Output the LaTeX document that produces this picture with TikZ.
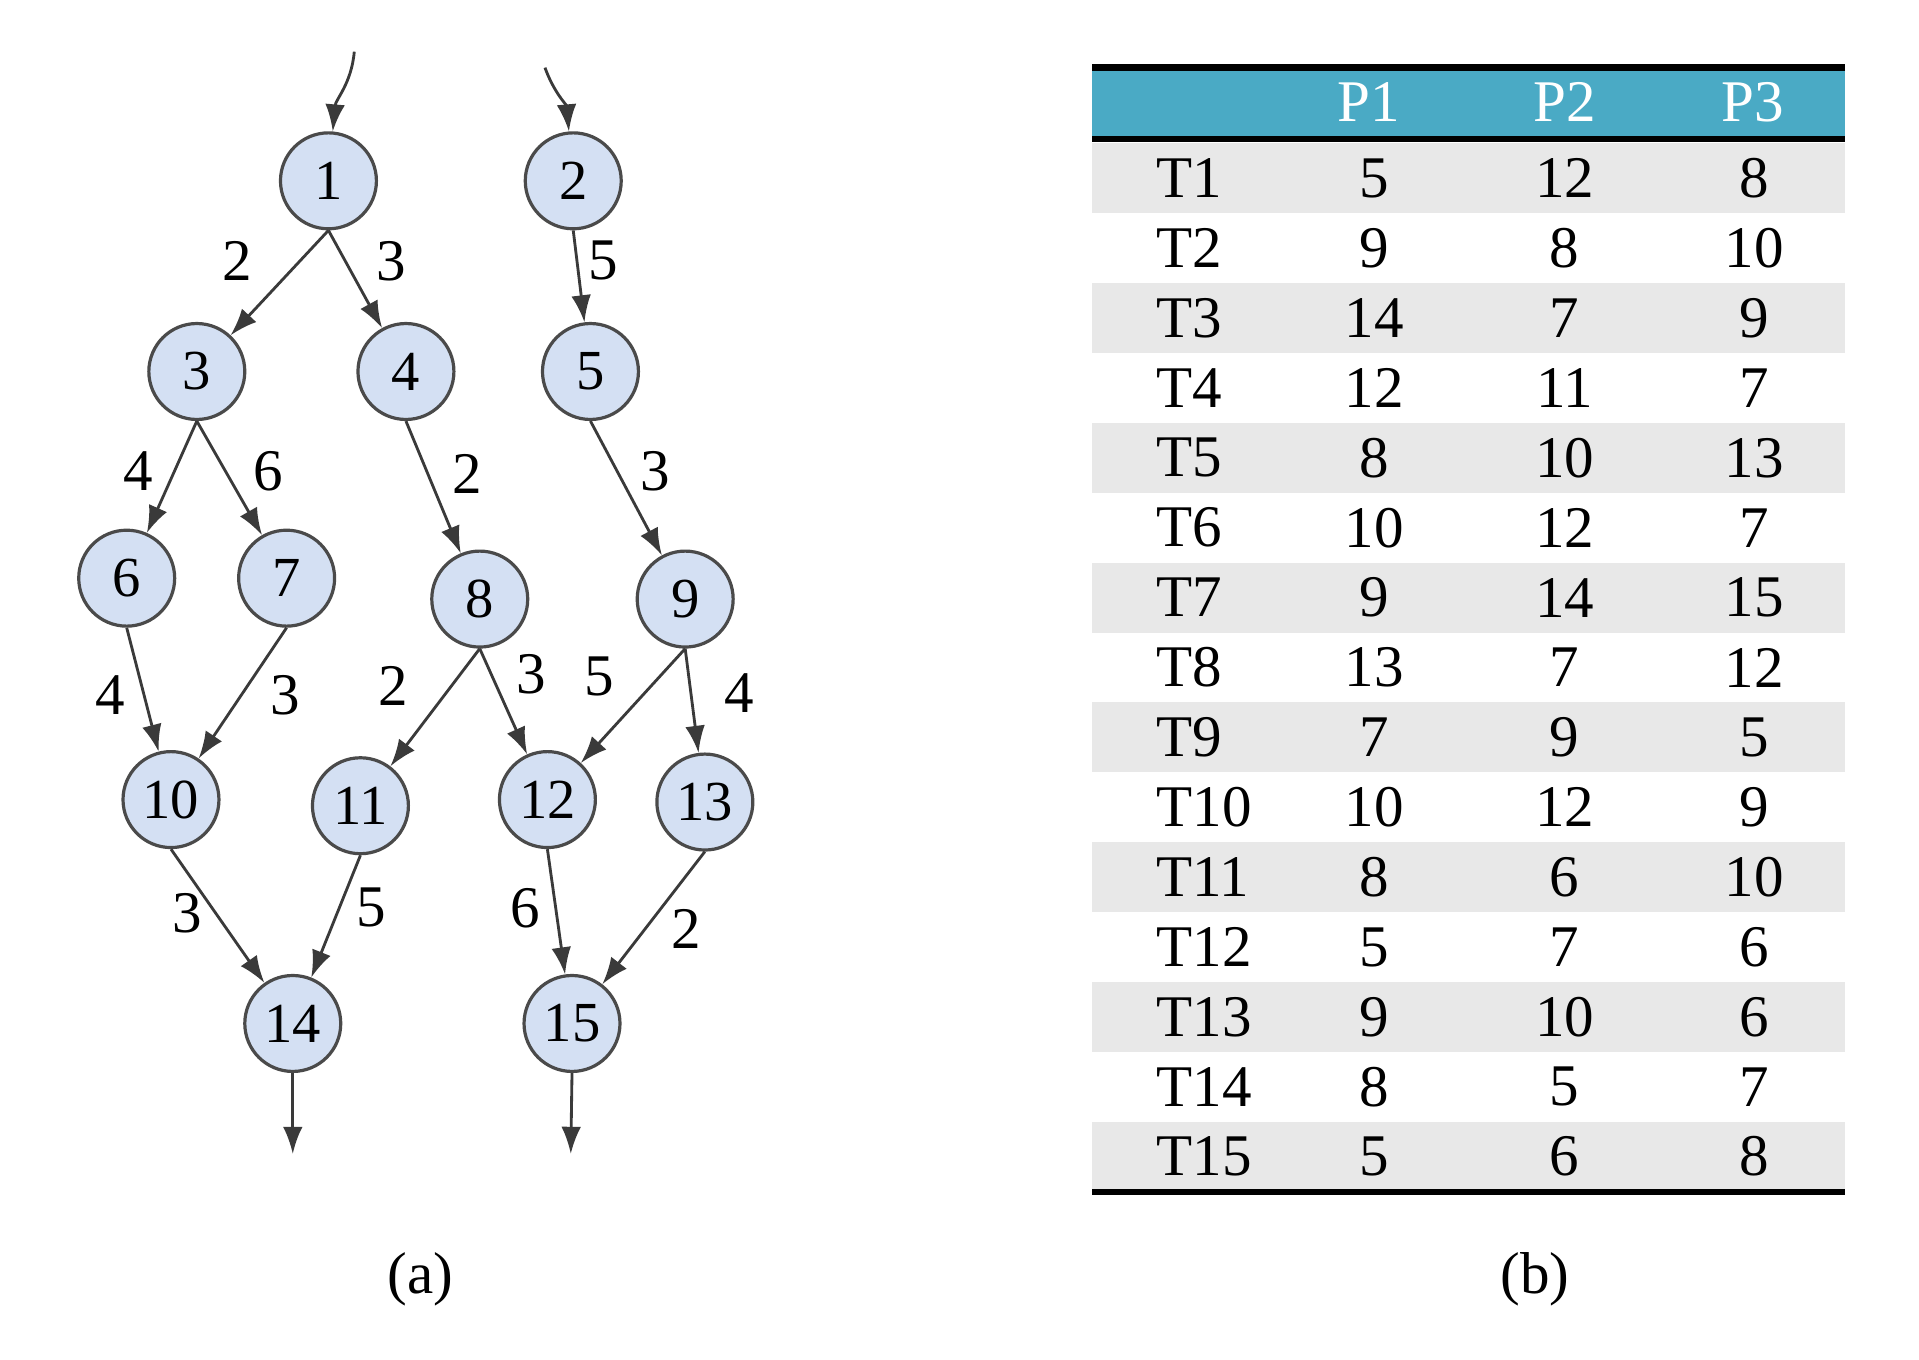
\documentclass[tikz,border=0pt]{standalone}
\usepackage{fontspec}
\setmainfont{Liberation Serif}
\usetikzlibrary{arrows.meta, positioning}
\definecolor{nodefill}{HTML}{D4E0F3}
\definecolor{nodeline}{HTML}{4A4A4A}
\definecolor{edgeline}{HTML}{3A3A3A}
\definecolor{headfill}{HTML}{4AAAC5}
\definecolor{rowfill}{HTML}{E8E8E8}
\tikzset{
    -{Latex[length=22pt,width=16pt]}, x=1pt, y=-1pt,
    every edge/.style = {draw=edgeline, line width=2.3pt},
    task/.style = {circle, draw=nodeline, fill=nodefill, line width=2.6pt,
                   minimum size=78pt, inner sep=0pt, font=\fontsize{46}{50}\selectfont},
    weight/.style = {inner sep=0pt, font=\fontsize{48}{52}\selectfont},
    cell/.style = {inner sep=0pt, font=\fontsize{48}{52}\selectfont},
    head/.style = {cell, text=white},
    rule/.style = {-, draw=black, line width=6pt}
    }

\begin{document}
\begin{tikzpicture}
    \useasboundingbox (0,0) rectangle (1560,1105);

    % task graph
    \node (1)  at (267,147) [task] {1};
    \node (2)  at (466,147) [task] {2};
    \node (3)  at (160,302) [task] {3};
    \node (4)  at (330,302) [task] {4};
    \node (5)  at (480,302) [task] {5};
    \node (6)  at (103,470) [task] {6};
    \node (7)  at (233,470) [task] {7};
    \node (8)  at (390,487) [task] {8};
    \node (9)  at (557,487) [task] {9};
    \node (10) at (139,650) [task] {10};
    \node (11) at (293,655) [task] {11};
    \node (12) at (445,650) [task] {12};
    \node (13) at (573,652) [task] {13};
    \node (14) at (238,832) [task] {14};
    \node (15) at (465,832) [task] {15};

    \coordinate (in1)  at (288,42);
    \coordinate (in2)  at (443,55);
    \coordinate (out14) at (238,938);
    \coordinate (out15) at (464,938);

    \path (in1) edge [out=-95, in=85] (1);
    \path (in2) edge [out=-70, in=95] (2);

    \path (1.south) edge (3)  node[weight] at (193,212) {2};
    \path (1.south) edge (4)  node[weight] at (318,212) {3};
    \path (2.south) edge (5)  node[weight] at (490,212) {5};
    \path (3.south) edge (6)  node[weight] at (112,383) {4};
    \path (3.south) edge (7)  node[weight] at (218,383) {6};
    \path (4.south) edge (8)  node[weight] at (380,385) {2};
    \path (5.south) edge (9)  node[weight] at (533,383) {3};
    \path (6.south) edge (10) node[weight] at (90,565)  {4};
    \path (7.south) edge (10) node[weight] at (232,565) {3};
    \path (8.south) edge (11) node[weight] at (320,558) {2};
    \path (8.south) edge (12) node[weight] at (432,548) {3};
    \path (9.south) edge (12) node[weight] at (487,550) {5};
    \path (9.south) edge (13) node[weight] at (601,563) {4};
    \path (10.south) edge (14) node[weight] at (152,742) {3};
    \path (11.south) edge (14) node[weight] at (302,738) {5};
    \path (12.south) edge (15) node[weight] at (427,738) {6};
    \path (13.south) edge (15) node[weight] at (558,755) {2};

    \path (14.south) edge (out14);
    \path (15.south) edge (out15);

    % cost table
    \fill[headfill] (888,57) rectangle (1500,111);
    \foreach \t/\a/\b/\c [count=\i] in {T1/5/12/8, T2/9/8/10, T3/14/7/9,
        T4/12/11/7, T5/8/10/13, T6/10/12/7, T7/9/14/15, T8/13/7/12,
        T9/7/9/5, T10/10/12/9, T11/8/6/10, T12/5/7/6, T13/9/10/6,
        T14/8/5/7, T15/5/6/8}
    {
        \pgfmathsetmacro\yy{145+(\i-1)*56.8}
        \ifodd\i
            \fill[rowfill] (888,{\yy-28.4}) rectangle (1500,{\yy+28.4});
        \fi
        \node (t\i) at (940,\yy)  [cell, anchor=west] {\t};
        \node (a\i) at (1117,\yy) [cell] {\a};
        \node (b\i) at (1272,\yy) [cell] {\b};
        \node (c\i) at (1426,\yy) [cell] {\c};
    }
    \draw[rule] (888,55) -- (1500,55);
    \draw[rule, line width=5pt] (888,113) -- (1500,113);
    \draw[rule, line width=5pt] (888,969) -- (1500,969);

    \node (p1) at (1113,83) [head] {P1};
    \node (p2) at (1272,83) [head] {P2};
    \node (p3) at (1425,83) [head] {P3};

    \node (capa) at (342,1040) [cell] {(a)};
    \node (capb) at (1248,1040) [cell] {(b)};
\end{tikzpicture}
\end{document}
